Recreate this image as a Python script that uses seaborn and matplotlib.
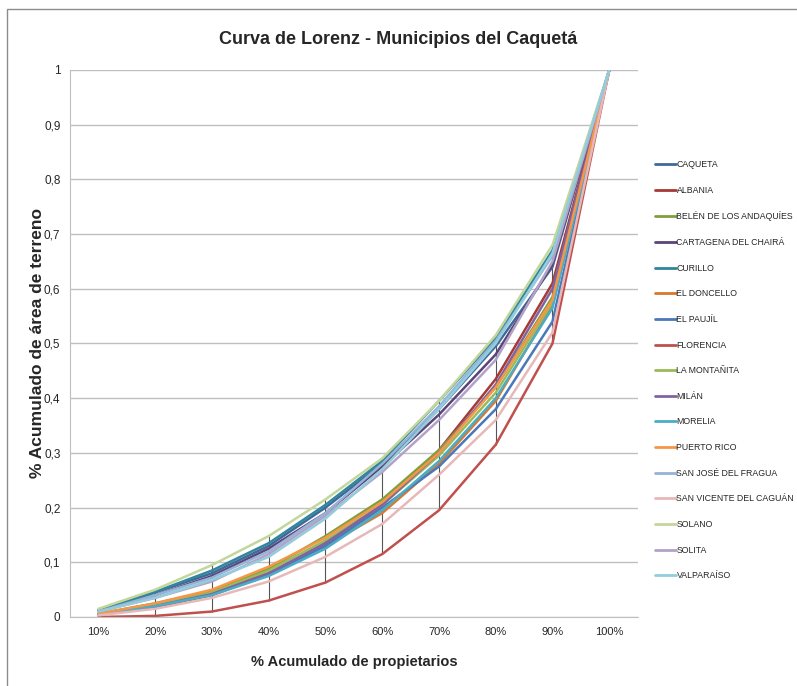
import matplotlib.pyplot as plt
import matplotlib.patches as mpatches
import seaborn as sns
import pandas as pd

# Cumulative share of owners (x) and land area (y) per municipality
pct_owners = [10, 20, 30, 40, 50, 60, 70, 80, 90, 100]

caqueta = [0.012, 0.045, 0.080, 0.130, 0.200, 0.280, 0.380, 0.495, 0.640, 1]
albania = [0.004, 0.018, 0.040, 0.078, 0.135, 0.205, 0.305, 0.435, 0.610, 1]
belen = [0.006, 0.025, 0.048, 0.088, 0.148, 0.215, 0.305, 0.420, 0.585, 1]
cartagena = [0.010, 0.040, 0.075, 0.125, 0.190, 0.275, 0.370, 0.480, 0.645, 1]
curillo = [0.012, 0.046, 0.085, 0.135, 0.205, 0.285, 0.395, 0.510, 0.670, 1]
doncello = [0.005, 0.022, 0.045, 0.080, 0.130, 0.190, 0.280, 0.395, 0.570, 1]
paujil = [0.005, 0.020, 0.042, 0.078, 0.130, 0.200, 0.275, 0.380, 0.540, 1]
florencia = [0.000, 0.002, 0.010, 0.030, 0.063, 0.115, 0.195, 0.315, 0.500, 1]
montanita = [0.005, 0.022, 0.045, 0.085, 0.140, 0.205, 0.295, 0.410, 0.575, 1]
milan = [0.005, 0.020, 0.042, 0.080, 0.135, 0.205, 0.300, 0.425, 0.600, 1]
morelia = [0.005, 0.020, 0.040, 0.075, 0.125, 0.195, 0.285, 0.400, 0.565, 1]
puerto_rico = [0.006, 0.025, 0.050, 0.092, 0.145, 0.210, 0.300, 0.420, 0.580, 1]
san_jose = [0.010, 0.040, 0.072, 0.120, 0.190, 0.280, 0.385, 0.505, 0.660, 1]
san_vicente = [0.003, 0.015, 0.035, 0.065, 0.110, 0.170, 0.260, 0.360, 0.520, 1]
solano = [0.015, 0.050, 0.095, 0.148, 0.215, 0.290, 0.395, 0.515, 0.680, 1]
solita = [0.010, 0.035, 0.065, 0.115, 0.185, 0.265, 0.360, 0.470, 0.650, 1]
valparaiso = [0.010, 0.035, 0.068, 0.110, 0.180, 0.270, 0.380, 0.500, 0.665, 1]

names = ['CAQUETA', 'ALBANIA', 'BELÉN DE LOS ANDAQUÍES', 'CARTAGENA DEL CHAIRÁ',
         'CURILLO', 'EL DONCELLO', 'EL PAUJÍL', 'FLORENCIA', 'LA MONTAÑITA',
         'MILÁN', 'MORELIA', 'PUERTO RICO', 'SAN JOSÉ DEL FRAGUA',
         'SAN VICENTE DEL CAGUÁN', 'SOLANO', 'SOLITA', 'VALPARAÍSO']
series = [caqueta, albania, belen, cartagena, curillo, doncello, paujil, florencia,
          montanita, milan, morelia, puerto_rico, san_jose, san_vicente, solano,
          solita, valparaiso]
colors = ['#3E6A9A', '#A63A37', '#7F9F3F', '#5A4478', '#31859C', '#D9782E',
          '#4A78B8', '#C0504D', '#9BBB59', '#8064A2', '#4BACC6', '#F79646',
          '#95B3D7', '#E6B9B8', '#C3D69B', '#B3A2C7', '#93CDDD']

# Long format for seaborn
rows = []
for name, vals in zip(names, series):
    for x, y in zip(pct_owners, vals):
        rows.append({'owners': x, 'area': y, 'municipio': name})
df = pd.DataFrame(rows)

sns.set_style('white')
plt.rcParams['font.family'] = ['Liberation Sans', 'DejaVu Sans']

fig = plt.figure(figsize=(7.97, 6.86), dpi=100)
ax = fig.add_axes([0.088, 0.1006, 0.712, 0.7974])

# Excel style high-low lines from min to max at each category
lims = df.groupby('owners')['area'].agg(['min', 'max']).reset_index()
ax.vlines(lims['owners'], lims['min'], lims['max'], color='#555555', linewidth=0.8, zorder=1)

sns.lineplot(data=df, x='owners', y='area', hue='municipio', hue_order=names,
             palette=dict(zip(names, colors)), linewidth=1.8, ax=ax, zorder=2)

ax.set_xlim(5, 105)
ax.set_ylim(0, 1)
ax.set_xticks(pct_owners)
ax.set_xticklabels([str(p) + '%' for p in pct_owners], fontsize=8)
yt = [i / 10 for i in range(11)]
ax.set_yticks(yt)
ax.set_yticklabels(['0', '0,1', '0,2', '0,3', '0,4', '0,5', '0,6', '0,7', '0,8', '0,9', '1'],
                   fontsize=8.5)
ax.yaxis.grid(True, color='#BFBFBF', linewidth=1)
ax.xaxis.grid(False)
for side in ['top', 'right']:
    ax.spines[side].set_visible(False)
ax.spines['left'].set_color('#BFBFBF')
ax.spines['bottom'].set_color('#BFBFBF')
ax.tick_params(axis='both', length=0, pad=7)

ax.set_xlabel('% Acumulado de propietarios', fontsize=10.5, fontweight='bold', labelpad=13)
ax.set_ylabel('% Acumulado de área de terreno', fontsize=12.5, fontweight='bold', labelpad=-1)
fig.suptitle('Curva de Lorenz - Municipios del Caquetá', x=0.5, y=0.942, va='center',
             fontsize=13, fontweight='bold')

leg = ax.legend(loc='upper left', bbox_to_anchor=(1.03, 0.835), frameon=False,
                fontsize=6.3, handlelength=2.4, labelspacing=1.9, handletextpad=0.1,
                borderaxespad=0, borderpad=0)
for line in leg.get_lines():
    line.set_linewidth(2)

# Chart frame like the Excel chart area
fig.patches.append(mpatches.Rectangle((0.009, -0.05), 1.1, 1.05 - 9 / 686,
                                      transform=fig.transFigure, fill=False,
                                      edgecolor='#8C8C8C', linewidth=1))

plt.savefig('out.png', dpi=100)
